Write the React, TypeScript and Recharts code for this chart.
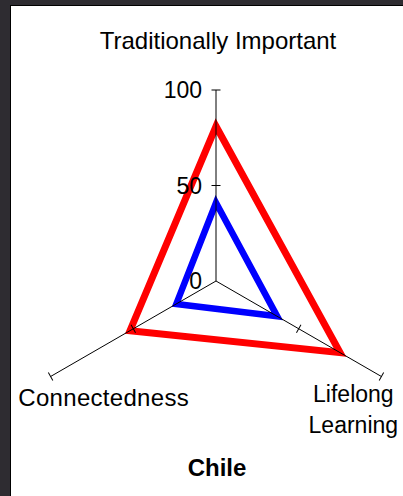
import { RadarChart, Radar, PolarAngleAxis, PolarRadiusAxis } from 'recharts'

const categories = ['Traditionally Important', 'Lifelong Learning', 'Connectedness']
const chileHigh = [81, 75, 52]
const chileLow = [41, 37, 24]
const spokeAngles = [90, -30, 210]

const data = categories.map((c, i) => ({ category: c, high: chileHigh[i], low: chileLow[i] }))

const FONT = 'Arial, "Liberation Sans", sans-serif'

// tick marks across each spoke; only the vertical spoke carries the numbers
const spokeTick = (angle: number, labelled: boolean) => ({ x, y, payload }: any) => (
  <g>
    {payload.value !== 0 && (
      <line x1={x - 4.5} x2={x + 4.5} y1={y} y2={y} stroke="#000" strokeWidth={1}
        transform={`rotate(${90 - angle}, ${x}, ${y})`} />
    )}
    {labelled && (
      <text x={x - 14} y={y} textAnchor="end" dominantBaseline="central"
        fill="#000" fontSize={23} fontFamily={FONT}>{payload.value}</text>
    )}
  </g>
)

const CategoryTick = ({ x, y, payload }: any) => {
  const a = Math.round(payload.coordinate)
  if (a === 90) {
    return <text x={x + 2} y={y - 42} textAnchor="middle" dominantBaseline="central" fill="#000" fontSize={24} fontFamily={FONT}>{payload.value}</text>
  }
  if (a === -30 || a === 330) {
    const words = payload.value.split(' ')
    return (
      <g>
        {words.map((w: string, i: number) => (
          <text key={i} x={x - 35} y={y + 13.5 + i * 31} textAnchor="middle" dominantBaseline="central"
            fill="#000" fontSize={23} fontFamily={FONT}>{w}</text>
        ))}
      </g>
    )
  }
  return <text x={x + 60} y={y + 16.5} textAnchor="middle" dominantBaseline="central" fill="#000" fontSize={24} fontFamily={FONT} letterSpacing={0.3}>{payload.value}</text>
}

export default function App() {
  return (
    <div style={{ position: 'absolute', left: 0, top: 0, width: 403, height: 496, background: '#2e2c31', overflow: 'hidden' }}>
      <div style={{ position: 'absolute', left: 10, top: 5, width: 393, height: 491, background: '#fff', borderLeft: '1px solid #000', borderTop: '1px solid #000', boxSizing: 'border-box' }} />
      <div style={{ position: 'absolute', left: 0, top: 0 }}>
        <RadarChart width={403} height={496} data={data} cx={216} cy={281} outerRadius={191}
          margin={{ top: 0, right: 0, bottom: 0, left: 0 }}>
          <PolarAngleAxis dataKey="category" axisLine={false} tickLine={false} tick={<CategoryTick />} />
          {spokeAngles.map((ang, i) => (
            <PolarRadiusAxis key={ang} radiusAxisId={`spoke${i}`} angle={ang} domain={[0, 100]} tickCount={3}
              type="number" stroke="#000" axisLine={{ stroke: '#000', strokeWidth: 1 }}
              tick={spokeTick(ang, i === 0)} />
          ))}
          {/* the side spokes only get a scale when a series is bound to them */}
          {spokeAngles.slice(1).map((ang, i) => (
            <Radar key={ang} radiusAxisId={`spoke${i + 1}`} dataKey="high" stroke="none" fill="none"
              dot={false} legendType="none" isAnimationActive={false} />
          ))}
          <Radar radiusAxisId="spoke0" dataKey="high" stroke="#ff0000" fill="none" fillOpacity={0}
            strokeWidth={7} dot={false} isAnimationActive={false} />
          <Radar radiusAxisId="spoke0" dataKey="low" stroke="#0000ff" fill="none" fillOpacity={0}
            strokeWidth={6.5} dot={false} isAnimationActive={false} />
        </RadarChart>
      </div>
      <div style={{ position: 'absolute', left: 0, top: 456, width: 434, textAlign: 'center', fontFamily: FONT, fontSize: 24, fontWeight: 'bold', lineHeight: '23px', color: '#000' }}>
        Chile
      </div>
    </div>
  )
}
